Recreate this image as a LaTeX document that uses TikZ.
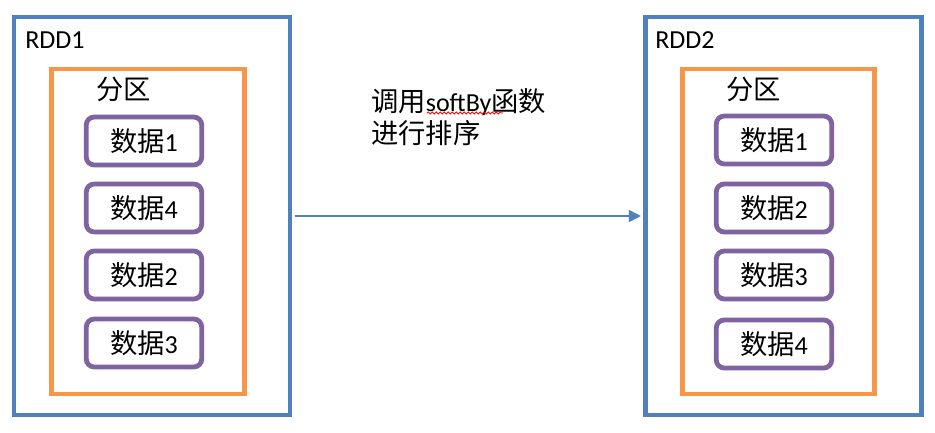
\documentclass[tikz,border=0pt]{standalone}
\usepackage{fontspec}
\setmainfont{Carlito}
\newfontfamily\cjk[Scale=1.05]{Noto Sans CJK SC}
\usetikzlibrary{arrows.meta,decorations.pathmorphing}
\definecolor{rddblue}{HTML}{4F81BD}
\definecolor{partorange}{HTML}{F79646}
\definecolor{datapurple}{HTML}{8064A2}
\tikzset{
  rddbox/.style={draw=rddblue,line width=3.4pt,minimum width=207pt,minimum height=298.5pt,inner sep=0pt},
  partbox/.style={draw=partorange,line width=3.6pt,minimum width=144.4pt,minimum height=243.75pt,inner sep=0pt},
  databox/.style={draw=datapurple,line width=3.6pt,rounded corners=6pt,minimum width=86.6pt,minimum height=36pt,inner sep=0pt,font=\fontsize{19.5}{22}\selectfont},
  lbl/.style={inner sep=0pt,font=\fontsize{19.5}{22}\selectfont},
}
\begin{document}
\begin{tikzpicture}[x=0.75pt,y=-0.75pt]
\useasboundingbox (0,0) rectangle (935,432);
% left RDD
\node[rddbox] (L) at (152,216) {};
\node[partbox] (LP) at (148,231.5) {};
\node[lbl,anchor=base west] (Lt) at (25,48) {RDD1};
\node[lbl,anchor=west] (Lpt) at (96,89) {\cjk 分区};
\node[databox] (L1) at (144,141) {{\cjk 数据}1};
\node[databox] (L2) at (144,208) {{\cjk 数据}4};
\node[databox] (L3) at (144,275) {{\cjk 数据}2};
\node[databox] (L4) at (144,343) {{\cjk 数据}3};
% right RDD
\node[rddbox] (R) at (783.5,216) {};
\node[partbox] (RP) at (778.5,231.5) {};
\node[lbl,anchor=base west] (Rt) at (655,48) {RDD2};
\node[lbl,anchor=west] (Rpt) at (726,89) {\cjk 分区};
\node[databox] (R1) at (774,140) {{\cjk 数据}1};
\node[databox] (R2) at (774,208) {{\cjk 数据}2};
\node[databox] (R3) at (774,275) {{\cjk 数据}3};
\node[databox] (R4) at (774,344) {{\cjk 数据}4};
% arrow
\draw[rddblue,line width=1.1pt,-{Triangle[length=9pt,width=9pt]},shorten <=1.7pt,shorten >=1.7pt] (L.east) -- (R.west);
% label
\node[lbl,anchor=west] (t1) at (371,102) {{\cjk 调用}softBy{\cjk 函数}};
\node[lbl,anchor=west] (t2) at (371,133) {\cjk 进行排序};
\coordinate (w1) at (427,113);
\coordinate (w2) at (503,113);
\draw[red,line width=0.6pt,decorate,decoration={snake,amplitude=0.8pt,segment length=3pt}] (w1) -- (w2);
\end{tikzpicture}
\end{document}
